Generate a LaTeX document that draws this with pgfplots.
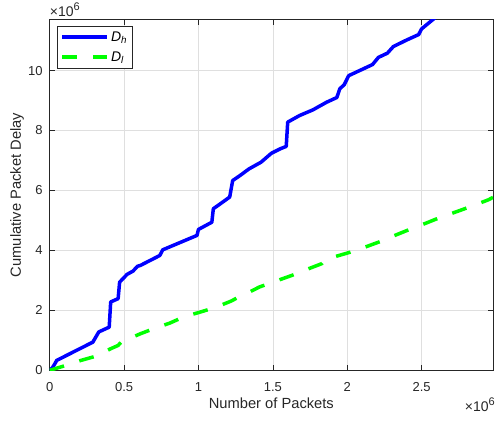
\documentclass[border=0pt]{standalone}
\usepackage{fontspec}
\setmainfont{Liberation Sans}
\usepackage{pgfplots}
\pgfplotsset{compat=1.18}
\definecolor{axgray}{RGB}{38,38,38}
\definecolor{gridgray}{RGB}{223,223,223}
\newcommand{\tensix}{{\fontsize{14}{16}\selectfont ×10\raisebox{5.5pt}{\fontsize{11}{13}\selectfont 6}}}
\begin{document}
\begin{tikzpicture}
\useasboundingbox (-49.7pt,-50pt) rectangle (445.3pt,370.3pt);
\begin{axis}[
  scale only axis,
  clip mode=individual,
  width=443.3pt, height=350.7pt,
  at={(0,0)}, anchor=south west,
  xmin=0, xmax=2.98, ymin=0, ymax=11.7,
  xtick={0,0.5,1,1.5,2,2.5},
  xticklabels={0,0.5,1,1.5,2,2.5},
  ytick={0,2,4,6,8,10},
  yticklabels={0,2,4,6,8,10},
  scaled ticks=false,
  tick align=inside,
  major tick length=5pt,
  tick style={axgray, line width=0.5pt},
  axis line style={axgray, line width=0.6pt},
  grid=major,
  grid style={gridgray, line width=0.5pt},
  ticklabel style={font=\fontsize{13}{15}\selectfont, text=axgray},
  xticklabel style={anchor=center, yshift=-16.7pt},
  yticklabel style={anchor=east, xshift=-3.5pt},
  /pgf/number format/assume math mode=true,
  xlabel={Number of Packets},
  ylabel={Cumulative Packet Delay},
  label style={font=\fontsize{14.7}{17}\selectfont, text=axgray},
  xlabel style={at={(axis description cs:0.5,-0.094)}, anchor=center},
  ylabel style={at={(axis description cs:-0.0738,0.5)}, anchor=center},
  legend style={at={(axis description cs:0.0171,0.981)}, anchor=north west,
    draw=axgray, line width=0.5pt, font=\fontsize{14}{16}\selectfont,
    inner xsep=3pt, inner ysep=3pt, row sep=5pt, fill=white},
  legend cell align=left,
  legend image code/.code={\draw[#1] (0pt,0pt) -- (45pt,0pt);},
]
\addplot[blue, line width=3.5pt, line join=round] coordinates {
(0,0) (0.02,0.1) (0.035,0.22) (0.047,0.33) (0.29,0.94) (0.33,1.28) (0.40,1.44)
(0.41,2.28) (0.46,2.39) (0.47,2.94) (0.52,3.2) (0.56,3.31) (0.59,3.47)
(0.61,3.5) (0.74,3.83) (0.76,4.02) (0.99,4.5) (1.0,4.7) (1.09,4.94)
(1.10,5.39) (1.14,5.53) (1.21,5.78) (1.23,6.33) (1.28,6.5) (1.34,6.72)
(1.42,6.94) (1.49,7.24) (1.55,7.39) (1.59,7.47) (1.60,8.28) (1.68,8.5)
(1.77,8.69) (1.86,8.94) (1.93,9.10) (1.95,9.39) (1.98,9.53) (2.01,9.83)
(2.17,10.2) (2.21,10.44) (2.27,10.58) (2.31,10.8) (2.40,11.02) (2.48,11.2)
(2.50,11.39) (2.60,11.8)
};
\addlegendentry{\textit{D}\textsubscript{\textit{h}}}
\addplot[green, line width=3.5pt, dash pattern=on 15pt off 16pt] coordinates {
(0,0) (0.1,0.15) (0.21,0.33) (0.31,0.47) (0.41,0.72) (0.46,0.83) (0.48,0.94)
(0.61,1.22) (0.70,1.39) (0.81,1.58) (0.90,1.78) (1.01,1.94) (1.11,2.09)
(1.22,2.31) (1.28,2.47) (1.31,2.53) (1.41,2.78) (1.50,2.94) (1.63,3.17)
(1.71,3.33) (1.83,3.56) (1.85,3.69) (1.91,3.78) (2.02,3.94) (2.12,4.11)
(2.23,4.31) (2.32,4.5) (2.43,4.72) (2.53,4.91) (2.63,5.11) (2.74,5.3)
(2.85,5.5) (2.95,5.69) (2.98,5.77)
};
\addlegendentry{\textit{D}\textsubscript{\textit{l}}}
\node[anchor=base west, text=axgray, inner sep=0pt]
  at (rel axis cs:0,1) [yshift=3.3pt] {\tensix};
\node[anchor=base east, text=axgray, inner sep=0pt]
  at (rel axis cs:1,0) [xshift=2pt, yshift=-41pt] {\tensix};
\end{axis}
\end{tikzpicture}
\end{document}
